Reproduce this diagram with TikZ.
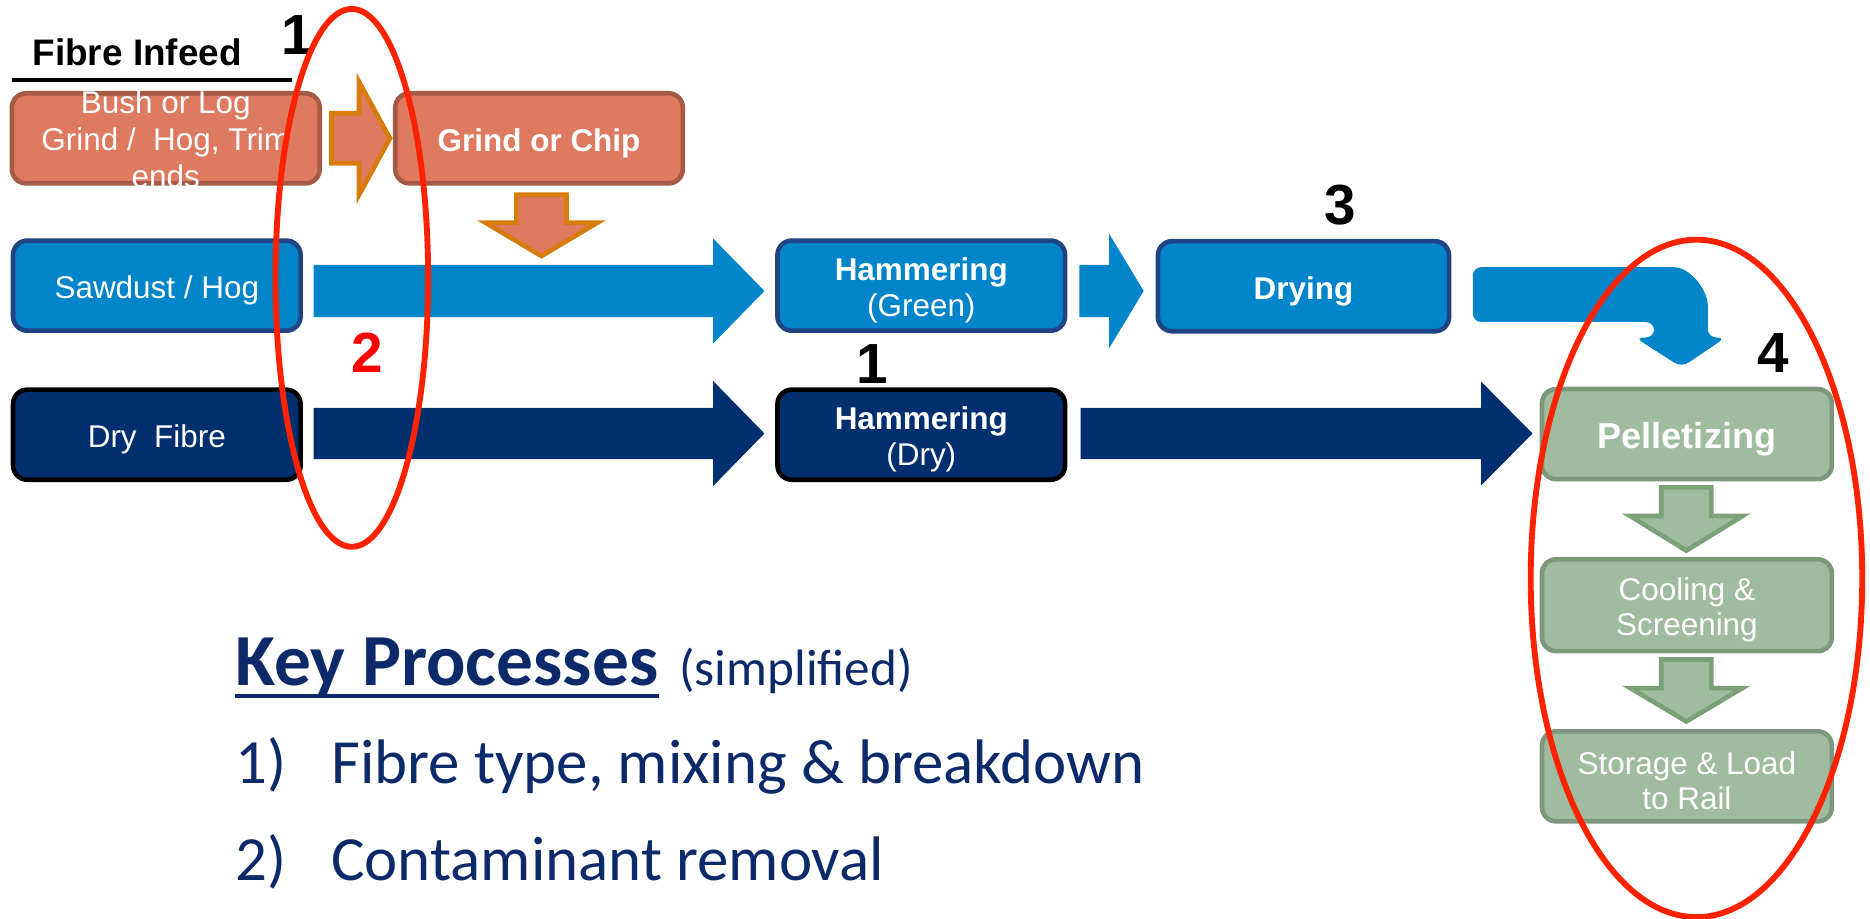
\documentclass[tikz,border=0pt]{standalone}
\usepackage{fontspec}
\setmainfont{Liberation Sans}
\newfontfamily\keyfont{Carlito}
\usetikzlibrary{calc}
\definecolor{salmon}{RGB}{222,122,95}
\definecolor{salmonline}{RGB}{166,90,69}
\definecolor{orangeline}{RGB}{215,123,10}
\definecolor{lightblue}{RGB}{0,132,202}
\definecolor{blueline}{RGB}{31,67,131}
\definecolor{navy}{RGB}{0,47,111}
\definecolor{sage}{RGB}{160,188,159}
\definecolor{sageline}{RGB}{126,151,124}
\definecolor{sagearrow}{RGB}{124,160,119}
\definecolor{keyblue}{RGB}{12,42,106}
\definecolor{ringred}{RGB}{255,34,0}
\tikzset{
  box/.style={rounded corners=1.2mm, line width=1.1pt, minimum width=2.41cm, minimum height=0.755cm,
    text=white, align=center, inner sep=0pt, text height=7.7pt, font=\fontsize{7.5}{8.5}\selectfont},
  twoline/.style={text height=16.1pt},
  orangebox/.style={box, fill=salmon, draw=salmonline},
  bluebox/.style={box, fill=lightblue, draw=blueline},
  navybox/.style={box, fill=navy, draw=black},
  sagebox/.style={box, fill=sage, draw=sageline},
  orangearrow/.style={fill=salmon, draw=orangeline, line width=1.1pt},
  bluearrow/.style={fill=lightblue},
  navyarrow/.style={fill=navy},
  sagearrow/.style={fill=sage, draw=sagearrow, line width=1.1pt},
  numlab/.style={inner sep=0pt, font=\fontsize{13.5}{14}\selectfont\bfseries},
  ring/.style={draw=ringred, line width=1.4pt},
  keytext/.style={anchor=base west, inner sep=0pt, text=keyblue, font=\keyfont\fontsize{15}{18}\selectfont},
  pics/rarrow/.style args={#1/#2/#3/#4}{code={
    \path[pic actions] (0,-#1) -- ++(#3,0) -- ++(0,#1-#2) -- ++(#4,#2) -- ++(-#4,#2) -- ++(0,#1-#2) -- ++(-#3,0) -- cycle;}}
}
\begin{document}
\begin{tikzpicture}[x=0.01cm,y=-0.01cm]
\useasboundingbox (0,0) rectangle (1568,770);

\node[inner sep=0pt, font=\fontsize{8.8}{10}\selectfont\bfseries] (infeed) at (115,44) {Fibre Infeed};
\draw[line width=0.85pt] (10,67) -- (245,67);

\node[orangebox, minimum width=2.58cm] (bush) at (139,116) {};
\node[text=white, align=center, inner sep=0pt, font=\fontsize{7.5}{8.8}\selectfont] (bushtext) at ($(bush.center)+(0,1)$) {Bush or Log\\Grind /~ Hog, Trim\\ends};
\node[orangebox, font=\fontsize{7.5}{8.5}\selectfont\bfseries] (grind) at (452,116) {Grind or Chip};

\node[bluebox] (saw) at (131.5,239.5) {Sawdust / Hog};
\node[bluebox, twoline] (hamg) at (772.5,239.5) {\textbf{Hammering}\\(Green)};
\node[bluebox, minimum width=2.44cm, font=\fontsize{7.5}{8.5}\selectfont\bfseries] (dryg) at (1093,240) {Drying};

\node[navybox] (dryf) at (131.5,364.5) {Dry~ Fibre};
\node[navybox, twoline] (hamd) at (772.5,364.5) {\textbf{Hammering}\\(Dry)};

\node[sagebox, minimum width=2.43cm, text height=8.9pt, font=\fontsize{8.6}{10}\selectfont\bfseries] (pel) at (1414.5,364) {Pelletizing};
\node[sagebox, twoline, minimum width=2.43cm, minimum height=0.77cm] (cool) at (1414.5,507.5) {Cooling \&\\Screening};
\node[sagebox, twoline, minimum width=2.43cm] (store) at (1414.5,651) {Storage \& Load\\to Rail};

\pic[orangearrow] at ($(bush.east)+(8,0)$) {rarrow=21/47.5/23/26};
\pic[orangearrow, rotate=-90] at ($(grind.south)+(2,7.5)$) {rarrow=21/47/23.5/28};
\pic[bluearrow] at ($(saw.east)+(9,4.5)$) {rarrow=22/44/335/43};
\pic[bluearrow] at ($(hamg.east)+(10,4.5)$) {rarrow=22/48/25/29};
\pic[navyarrow] at ($(dryf.east)+(9,-1)$) {rarrow=21.5/44/335/43};
\pic[navyarrow] at ($(hamd.east)+(11,-1)$) {rarrow=21.5/43.5/336/43};
\pic[sagearrow, rotate=-90] at ($(pel.south)+(-0.5,5)$) {rarrow=21/47/24/29};
\pic[sagearrow, rotate=-90] at ($(cool.south)+(-0.5,5)$) {rarrow=21/47/24/28};

\coordinate (bend) at ($(dryg.east)+(18,0)$);
\begin{scope}[shift={(bend)}]
\fill[lightblue, rounded corners=2] (0,-16) -- (161,-16) .. controls (183,-16) and (197,4) .. (197,23)
  -- (197,43) -- (212,43) -- (175,68) -- (136,43) -- (152,43) -- (152,30) -- (0,30) -- cycle;
\end{scope}

\node[numlab] (num1a) at (249,29) {1};
\node[numlab, text=red] (num2) at (308,296) {2};
\node[numlab] (num1b) at (731,305) {1};
\node[numlab] (num3) at (1124,172) {3};
\node[numlab] (num4) at (1487,296) {4};

\draw[ring] (295,233) ellipse [x radius=64, y radius=225.5];
\draw[ring] (1422.5,485) ellipse [x radius=139, y radius=284];

\node[keytext, font=\keyfont\fontsize{17.5}{20}\selectfont\bfseries] (kp) at (197,575) {Key Processes};
\node[keytext, font=\keyfont\fontsize{12.2}{14}\selectfont] (simp) at (569,575) {(simplified)};
\draw[keyblue, line width=1.1pt] ($(kp.base west)+(0,8.5)$) -- ($(kp.base east)+(0,8.5)$);
\node[keytext] (k1n) at (197,657) {1)};
\node[keytext] (k1) at (277,657) {Fibre type, mixing \& breakdown};
\node[keytext] (k2n) at (197,738) {2)};
\node[keytext] (k2) at (277,738) {Contaminant removal};
\end{tikzpicture}
\end{document}
